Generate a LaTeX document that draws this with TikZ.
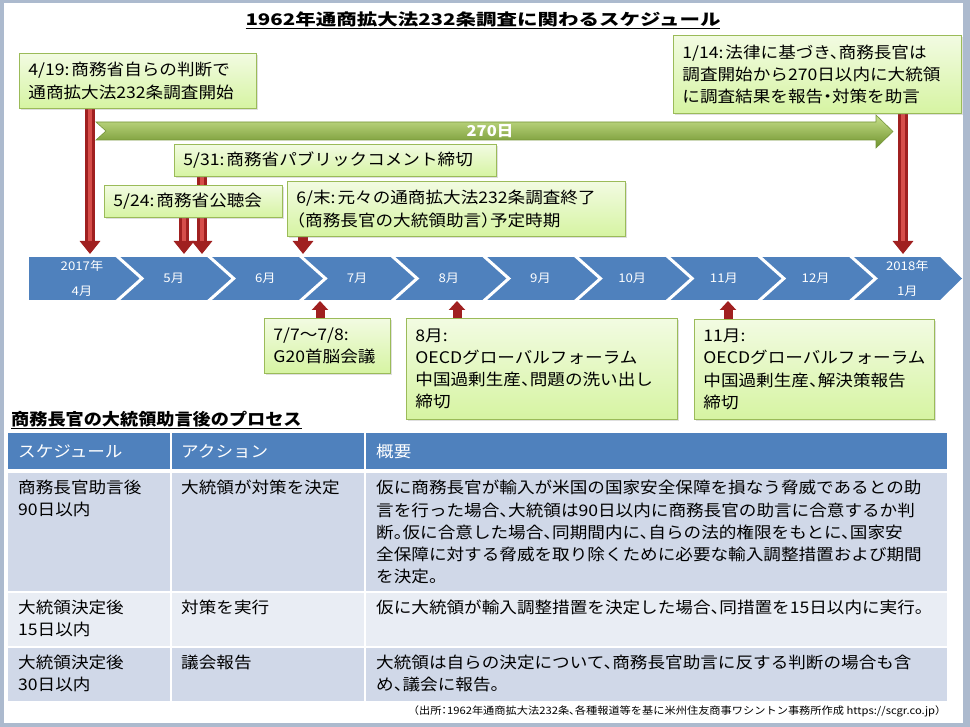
\documentclass[tikz,border=0pt]{standalone}
\usepackage{fontspec}
\setmainfont{Noto Sans CJK JP}[FakeStretch=1.1, RawFeature=+halt]
\newfontfamily\titlefont{Noto Sans CJK JP}[FakeStretch=1.28]
\usepackage{tikz}
\usetikzlibrary{arrows.meta, shadows}
\pgfdeclarelayer{back}
\pgfdeclarelayer{mid}
\pgfsetlayers{back,mid,main}

\definecolor{framegray}{RGB}{172,186,206}
\definecolor{barblue}{RGB}{79,129,189}
\definecolor{rowdark}{RGB}{208,216,232}
\definecolor{rowlight}{RGB}{233,237,244}
\definecolor{boxedge}{RGB}{155,187,89}
\definecolor{boxtop}{RGB}{242,251,226}
\definecolor{boxbot}{RGB}{214,244,162}
\definecolor{arrowred}{RGB}{160,32,32}
\definecolor{arrowhi}{RGB}{214,78,74}
\definecolor{greentop}{RGB}{200,224,140}
\definecolor{greenmid}{RGB}{150,188,78}
\definecolor{greenbot}{RGB}{110,146,44}
\definecolor{greenedge}{RGB}{118,150,58}

\begin{document}
\begin{tikzpicture}[
    x=1pt, y=-1pt,
    callout/.style={rectangle, draw=boxedge, line width=0.8pt, top color=boxtop, bottom color=boxbot,
                    drop shadow={shadow xshift=1.5pt, shadow yshift=-1.5pt, opacity=0.25},
                    anchor=north west, inner xsep=9pt, inner ysep=0pt, align=left,
                    font=\fontsize{16}{22.3}\selectfont},
    redarr/.style={line width=10pt, draw=arrowred, -{Triangle[width=20pt, length=13pt]}},
    redhi/.style={line width=3.5pt, draw=arrowhi, shorten >=13pt},
    uparr/.style={line width=9pt, draw=arrowred, -{Triangle[width=16pt, length=9pt]}},
    month/.style={text=white, align=center, inner sep=0pt, font=\fontsize{12}{25}\selectfont},
    cell/.style={anchor=north west, inner sep=0pt, align=left, font=\fontsize{16}{22.3}\selectfont},
    head/.style={anchor=west, inner sep=0pt, text=white, font=\fontsize{16}{20}\selectfont}
]
\useasboundingbox (0,0) rectangle (970,727);

% slide frame and month bar
\begin{pgfonlayer}{back}
\fill[framegray] (0,0) rectangle (970,727);
\fill[white] (4,3) rectangle (963,723);
\begin{scope}
  \clip (29,257) -- (940,257) -- (962,278.5) -- (940,300) -- (29,300) -- cycle;
  \fill[barblue] (29,257) rectangle (970,300);
  \foreach \i in {0,...,8}
    \draw[white, line width=3pt] ({114.6+91.7*\i},254) -- ({142+91.7*\i},278.5) -- ({114.6+91.7*\i},303);
\end{scope}
\foreach \i/\lab in {0/{2017年\\4月}, 1/5月, 2/6月, 3/7月, 4/8月, 5/9月, 6/10月, 7/11月, 8/12月, 9/{2018年\\1月}}
  \node[month] (m\i) at ({82+91.7*\i},278) {\lab};
\end{pgfonlayer}

\node[font=\titlefont\bfseries\fontsize{16}{20}\selectfont] (title) at (483,20)
  {\underline{1962年通商拡大法232条調査に関わるスケジュール}};

% callouts
\node[callout, text width=219pt, minimum height=55pt] (b419) at (19,53)
  {4/19:\hspace{2pt}商務省自らの判断で\\通商拡大法232条調査開始};
\node[callout, text width=270pt, minimum height=78pt] (b114) at (673,35)
  {1/14:\hspace{2pt}法律に基づき、商務長官は\\調査開始から270日以内に大統領\\に調査結果を報告・対策を助言};
\node[callout, text width=304pt, minimum height=32pt] (b531) at (174,144)
  {5/31:\hspace{2pt}商務省パブリックコメント締切};
\node[callout, text width=160pt, minimum height=32pt] (b524) at (104,185)
  {5/24:\hspace{2pt}商務省公聴会};
\node[callout, text width=320pt, minimum height=55pt] (b6e) at (287,181)
  {6/末:\hspace{2pt}元々の通商拡大法232条調査終了\\（商務長官の大統領助言）予定時期};
\node[callout, text width=108pt, minimum height=55pt] (b77) at (264,318)
  {7/7～7/8:\\G20首脳会議};
\node[callout, text width=253pt, minimum height=101pt] (b8) at (406,318)
  {8月:\\OECDグローバルフォーラム\\中国過剰生産、問題の洗い出し\\締切};
\node[callout, text width=222pt, minimum height=100pt] (b11) at (694,319)
  {11月:\\OECDグローバルフォーラム\\中国過剰生産、解決策報告\\締切};

\coordinate (t419) at (90,254);
\coordinate (t531) at (202,254);
\coordinate (t524) at (184,254);
\coordinate (t6e)  at (303,254);
\coordinate (t114) at (903,254);
\coordinate (t77)  at (320,301);
\coordinate (t8)   at (457,301);
\coordinate (t11)  at (728,301);

% arrows behind the callouts
\begin{pgfonlayer}{mid}
\shade[top color=greentop, middle color=greenmid, bottom color=greenbot, draw=greenedge, line width=0.6pt]
  (96,122) -- (876,122) -- (876,115) -- (893,131.5) -- (876,148) -- (876,140) -- (96,140) -- (106,131) -- cycle;
\node[text=white, font=\bfseries\fontsize{15}{15}\selectfont] (d270) at (490,131) {270日};
\foreach \from/\to in {b419/t419, b531/t531, b524/t524, b6e/t6e, b114/t114}
  \draw[redarr] (\from.south -| \to) -- (\to);
\foreach \from/\to in {b419/t419, b531/t531, b524/t524, b114/t114}
  \draw[redhi] (\from.south -| \to) -- (\to);
\foreach \from/\to in {b77/t77, b8/t8, b11/t11}
  \draw[uparr] (\from.north -| \to) -- (\to);
\end{pgfonlayer}

% process table
\node[anchor=west, inner sep=0pt, font=\bfseries\fontsize{16.5}{20}\selectfont] (ptitle) at (11,420)
  {\underline{商務長官の大統領助言後のプロセス}};
\fill[barblue] (8,433) rectangle (947,469);
\fill[rowdark] (8,473) rectangle (947,591);
\fill[rowlight] (8,593) rectangle (947,646);
\fill[rowdark] (8,648) rectangle (947,701);
\foreach \x in {171,365}
  \draw[white, line width=2pt] (\x,433) -- (\x,701);

\node[head] (h1) at (18,451) {スケジュール};
\node[head] (h2) at (181,451) {アクション};
\node[head] (h3) at (376,451) {概要};

\node[cell] (s1) at (18,480) {商務長官助言後\\90日以内};
\node[cell] (a1) at (181,480) {大統領が対策を決定};
\node[cell] (o1) at (376,480)
  {仮に商務長官が輸入が米国の国家安全保障を損なう脅威であるとの助\\
   言を行った場合、大統領は90日以内に商務長官の助言に合意するか判\\
   断。仮に合意した場合、同期間内に、自らの法的権限をもとに、国家安\\
   全保障に対する脅威を取り除くために必要な輸入調整措置および期間\\
   を決定。};
\node[cell] (s2) at (18,600) {大統領決定後\\15日以内};
\node[cell] (a2) at (181,600) {対策を実行};
\node[cell] (o2) at (376,600) {仮に大統領が輸入調整措置を決定した場合、同措置を15日以内に実行。};
\node[cell] (s3) at (18,655) {大統領決定後\\30日以内};
\node[cell] (a3) at (181,655) {議会報告};
\node[cell] (o3) at (376,655)
  {大統領は自らの決定について、商務長官助言に反する判断の場合も含\\
   め、議会に報告。};

\node[anchor=east, inner sep=0pt, font=\fontsize{10.2}{12}\selectfont] (src) at (941,711)
  {（出所：1962年通商拡大法232条、各種報道等を基に米州住友商事ワシントン事務所作成 https://scgr.co.jp）};
\end{tikzpicture}
\end{document}
